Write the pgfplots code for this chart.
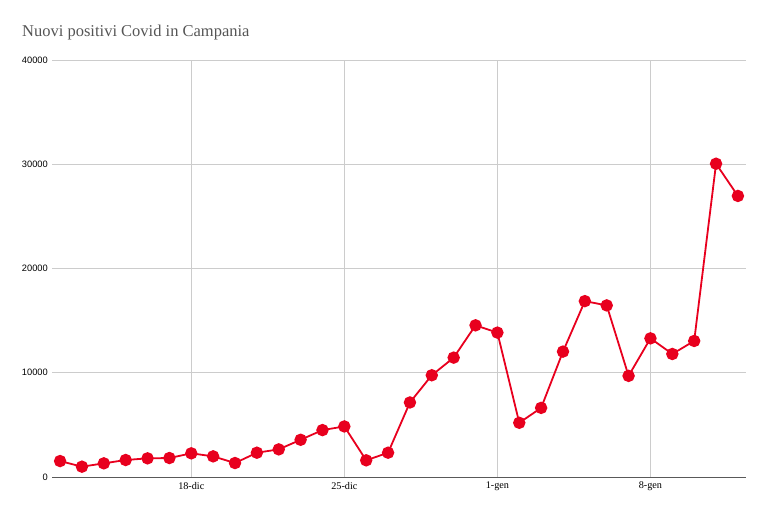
\documentclass[border=0pt]{standalone}
\usepackage{fontspec}
\setmainfont{Liberation Serif}
\newfontfamily\sansfont{Liberation Sans}
\usepackage{pgfplots}
\pgfplotsset{compat=1.18}
\definecolor{ptred}{RGB}{232,0,30}
\definecolor{gridgray}{RGB}{204,204,204}
\definecolor{titlegray}{RGB}{85,85,85}
\begin{document}
\begin{tikzpicture}
\path[use as bounding box] (0,0) rectangle (767bp,509bp);
\node[anchor=base west, inner sep=0pt, text=titlegray, font=\fontsize{16.5bp}{20bp}\selectfont] at (22bp,472bp) {Nuovi positivi Covid in Campania};
\begin{axis}[
  at={(52bp,32bp)}, anchor=south west,
  scale only axis, width=694bp, height=417bp,
  xmin=-0.37, xmax=31.37, ymin=0, ymax=40000,
  axis line style={draw=none},
  xtick={6,13,20,27},
  xticklabels={18-dic,25-dic,1-gen,8-gen},
  ytick={0,10000,20000,30000,40000},
  scaled y ticks=false,
  major tick length=0pt,
  xmajorgrids, ymajorgrids,
  grid style={gridgray, line width=0.9bp},
  /pgf/number format/assume math mode=true,
  /pgf/number format/1000 sep={},
  yticklabel style={font=\sansfont\fontsize{9.3bp}{11bp}\selectfont, inner sep=0pt, xshift=-4bp},
  xticklabel style={font=\fontsize{10.2bp}{12bp}\selectfont, inner sep=0pt, yshift=-5bp},
  clip=false,
]
\draw[black!65, line width=1bp] (axis cs:-0.37,0) -- (axis cs:31.37,0);
\addplot[ptred, line width=1.8bp, mark=*, mark size=5.3bp, mark options={fill=ptred, draw=ptred}] coordinates {
(0,1530) (1,990) (2,1310) (3,1630) (4,1790) (5,1820) (6,2270) (7,1980)
(8,1340) (9,2330) (10,2650) (11,3570) (12,4500) (13,4850) (14,1600) (15,2330)
(16,7150) (17,9760) (18,11450) (19,14550) (20,13850) (21,5200) (22,6630) (23,12030)
(24,16870) (25,16460) (26,9700) (27,13300) (28,11800) (29,13050) (30,30050) (31,26960)
};
\end{axis}
\end{tikzpicture}
\end{document}
